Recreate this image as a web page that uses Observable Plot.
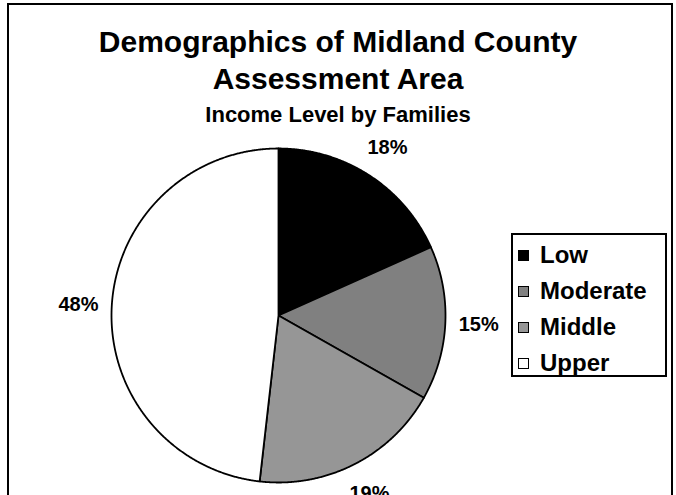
<!DOCTYPE html>
<html>
<head>
<meta charset="utf-8">
<script src="https://cdn.jsdelivr.net/npm/d3@7"></script>
<script src="https://cdn.jsdelivr.net/npm/@observablehq/plot@0.6"></script>
<style>
  html, body { margin: 0; padding: 0; background: #fff; }
  body { width: 676px; height: 495px; overflow: hidden; position: relative;
         font-family: "Liberation Sans", Arial, Helvetica, sans-serif; font-weight: bold; color: #000; }
  #frame { position: absolute; left: 7px; top: 3px; width: 666px; height: 540px;
           border: 2px solid #000; box-sizing: border-box; }
  .t { position: absolute; left: 0; width: 676px; text-align: center; line-height: 1; white-space: nowrap; }
  #t1 { top: 27px; font-size: 30px; }
  #t2 { top: 64px; font-size: 30px; }
  #t3 { top: 104px; font-size: 22px; }
  #chart { position: absolute; left: 0; top: 130px; }
  #legend { position: absolute; left: 511px; top: 233px; width: 156px; height: 144px;
            border: 2px solid #000; box-sizing: border-box; background: #fff; }
  .li { position: absolute; left: 5px; height: 28px; display: flex; align-items: center; font-size: 24px; }
  .sw { width: 11px; height: 11px; border: 1px solid #000; box-sizing: border-box; margin-right: 11px; }
</style>
</head>
<body>
<div id="frame"></div>
<div class="t" id="t1">Demographics of Midland County</div>
<div class="t" id="t2">Assessment Area</div>
<div class="t" id="t3">Income Level by Families</div>
<div id="chart"></div>
<div id="legend"></div>
<script>
const categories = ["Low", "Moderate", "Middle", "Upper"];
const values = [18.3, 14.9, 18.6, 48.2];
const colors = ["#000000", "#808080", "#969696", "#ffffff"];

const data = categories.map((c, i) => ({key: c, value: values[i]}));
const arcs = d3.pie().sort(null).value(d => d.value)(data);

const pts = [];
arcs.forEach(a => {
  const k = a.data.key;
  pts.push({key: k, x: 0, y: 0});
  const n = Math.max(2, Math.ceil((a.endAngle - a.startAngle) / 0.005));
  for (let i = 0; i <= n; i++) {
    const t = a.startAngle + (a.endAngle - a.startAngle) * i / n;
    pts.push({key: k, x: Math.sin(t), y: Math.cos(t)});
  }
  pts.push({key: k, x: 0, y: 0});
});

const labels = arcs.map(a => {
  const m = (a.startAngle + a.endAngle) / 2;
  return {x: 1.2 * Math.sin(m), y: 1.2 * Math.cos(m), text: Math.round(a.data.value) + "%"};
});

const plot = Plot.plot({
  width: 676,
  height: 365,
  margin: 0,
  x: {domain: [-1, 1], range: [111, 445], axis: null},
  y: {domain: [-1, 1], range: [352, 18], axis: null},
  color: {domain: categories, range: colors},
  style: {background: "transparent", overflow: "visible"},
  marks: [
    Plot.line(pts, {x: "x", y: "y", z: "key", fill: "key", stroke: "#000", strokeWidth: 1.8, strokeLinejoin: "round", curve: "linear"}),
    Plot.text(labels, {x: "x", y: "y", text: "text", fontSize: 20, fontWeight: "bold", fill: "#000",
      fontFamily: "Liberation Sans, Arial, sans-serif", textAnchor: "middle", lineAnchor: "middle"})
  ]
});
document.getElementById("chart").appendChild(plot);

const legend = document.getElementById("legend");
const rowCenters = [20, 56, 92, 128];
categories.forEach((c, i) => {
  const row = document.createElement("div");
  row.className = "li";
  row.style.top = (rowCenters[i] - 14) + "px";
  const sw = document.createElement("div");
  sw.className = "sw";
  sw.style.background = colors[i];
  const tx = document.createElement("span");
  tx.textContent = c;
  row.appendChild(sw);
  row.appendChild(tx);
  legend.appendChild(row);
});
</script>
</body>
</html>
